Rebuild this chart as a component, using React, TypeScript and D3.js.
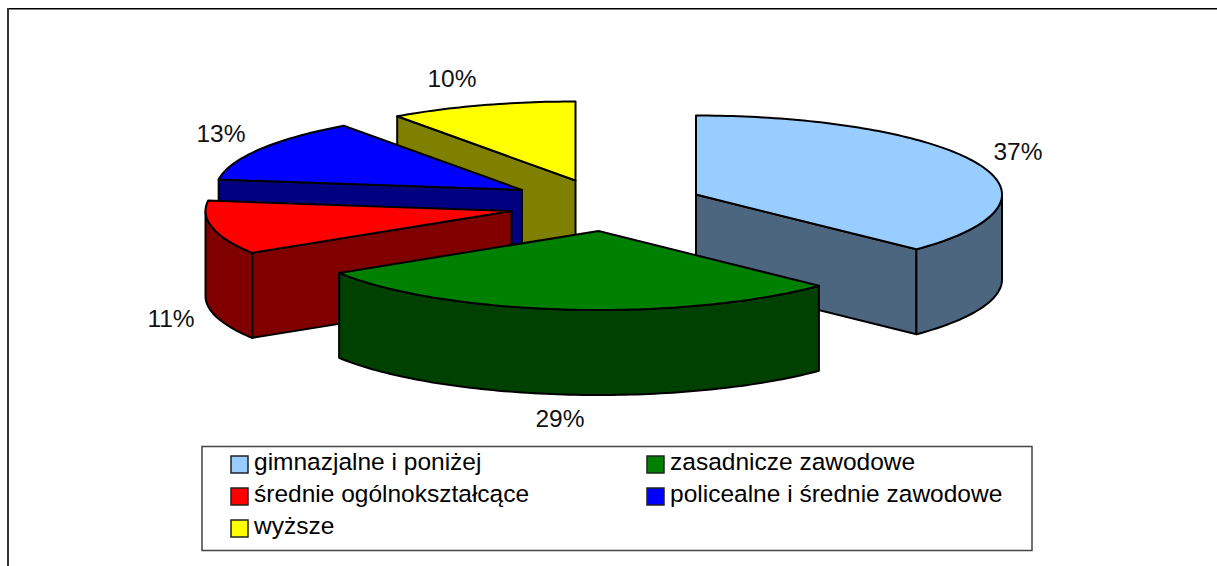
import React from "react";
import * as d3 from "d3";

const categories = ["gimnazjalne i poniżej", "zasadnicze zawodowe", "średnie ogólnokształcące", "policealne i średnie zawodowe", "wyższe"];
const values = [37.2, 28.9, 11, 13, 9.9];
const percentLabels = ["37%", "29%", "11%", "13%", "10%"];
const topColors = ["#99CCFF", "#008000", "#FF0000", "#0000FF", "#FFFF00"];
const wallColors = ["#4D6680", "#004000", "#800000", "#000080", "#808000"];
const apexX = [696, 598.5, 511.5, 522, 575.5];
const apexY = [194.5, 231, 211, 190, 180.5];
const labelX = [1018, 560, 171, 221, 452];
const labelY = [160, 427, 327, 142, 87];
const paintOrder = [4, 3, 2, 0, 1];
const legendOrder = [
  { i: 0, x: 231, tx: 254, y: 456 },
  { i: 1, x: 647, tx: 670, y: 456 },
  { i: 2, x: 231, tx: 254, y: 488 },
  { i: 3, x: 647, tx: 670, y: 488 },
  { i: 4, x: 231, tx: 254, y: 520 },
];

const RX = 306;
const RY = 79;
const DEPTH = 85;
const FONT = "'Liberation Sans', Arial, sans-serif";
const lineGen = d3.line<[number, number]>();

export default function App() {
  const arcs = d3.pie<number>().sort(null).startAngle(0).endAngle(2 * Math.PI)(values);

  const slices = arcs.map((a, i) => {
    const cx = apexX[i];
    const cy = apexY[i];
    const pt = (t: number, dz = 0): [number, number] => [cx + RX * Math.sin(t), cy - RY * Math.cos(t) + dz];
    const samples = (t0: number, t1: number) => {
      const n = Math.max(2, Math.ceil(Math.abs(t1 - t0) / 0.02));
      return d3.range(n + 1).map((k) => t0 + ((t1 - t0) * k) / n);
    };
    const apex: [number, number] = [cx, cy];
    const apexB: [number, number] = [cx, cy + DEPTH];
    const top = lineGen([apex, ...samples(a.startAngle, a.endAngle).map((t) => pt(t))]) + "Z";

    const w0 = Math.max(a.startAngle, Math.PI / 2);
    const w1 = Math.min(a.endAngle, (3 * Math.PI) / 2);
    let outer: string | null = null;
    if (w1 > w0) {
      const s = samples(w0, w1);
      outer = lineGen([...s.map((t) => pt(t)), ...s.slice().reverse().map((t) => pt(t, DEPTH))]) + "Z";
    }
    let cut: string | null = null;
    if (a.endAngle <= Math.PI) {
      cut = lineGen([apex, pt(a.endAngle), pt(a.endAngle, DEPTH), apexB]) + "Z";
    } else if (a.startAngle >= Math.PI) {
      cut = lineGen([apex, pt(a.startAngle), pt(a.startAngle, DEPTH), apexB]) + "Z";
    }
    return { top, outer, cut };
  });

  return (
    <svg width={1217} height={566} style={{ position: "absolute", left: 0, top: 0, display: "block" }}>
      <rect width={1217} height={566} fill="#fff" />
      <line x1={7} y1={8.5} x2={1217} y2={8.5} stroke="#000" strokeWidth={1} />
      <line x1={8} y1={9.5} x2={1217} y2={9.5} stroke="#808080" strokeWidth={1} />
      <line x1={8} y1={8} x2={8} y2={566} stroke="#333" strokeWidth={2} />

      {paintOrder.map((i) => (
        <g key={i} stroke="#000" strokeWidth={2} strokeLinejoin="round">
          {slices[i].cut && <path d={slices[i].cut!} fill={wallColors[i]} />}
          {slices[i].outer && <path d={slices[i].outer!} fill={wallColors[i]} />}
          <path d={slices[i].top} fill={topColors[i]} />
        </g>
      ))}

      {percentLabels.map((t, i) => (
        <text key={i} x={labelX[i]} y={labelY[i]} textAnchor="middle" fontFamily={FONT} fontSize={24.5} fill="#111">
          {t}
        </text>
      ))}

      <rect x={202} y={446.5} width={830} height={104} fill="#fff" stroke="#444" strokeWidth={1.5} />
      {legendOrder.map(({ i, x, tx, y }) => (
        <g key={i}>
          <rect x={x} y={y} width={17} height={17} fill={topColors[i]} stroke="#222" strokeWidth={1.5} />
          <text x={tx} y={y + 14} fontFamily={FONT} fontSize={24.5} fill="#000">
            {categories[i]}
          </text>
        </g>
      ))}
    </svg>
  );
}
